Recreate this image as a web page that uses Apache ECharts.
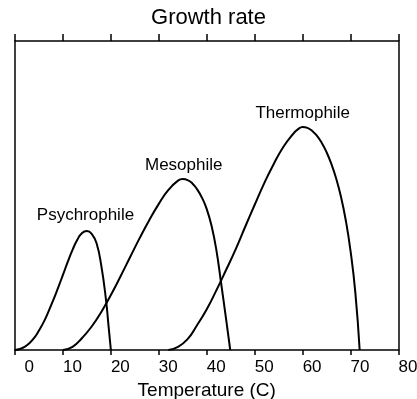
<!DOCTYPE html>
<html>
<head>
<meta charset="utf-8">
<script src="https://cdn.jsdelivr.net/npm/echarts@6/dist/echarts.min.js"></script>
<style>html,body{margin:0;padding:0;background:#fff}#c{width:417px;height:399px}</style>
</head>
<body>
<div id="c"></div>
<script>
// Temperature (C) vs relative growth rate (0-100 scale)
const xTicks = [0, 10, 20, 30, 40, 50, 60, 70, 80];
const psychroX = [0, 1, 2, 3, 4, 5, 6, 7, 8, 9, 10, 11, 12, 13, 14, 15, 16, 17, 18, 19, 19.5, 20];
const psychroY = [0, 0.3, 1.0, 2.2, 3.9, 6.3, 9.1, 12.5, 16.2, 20.2, 24.3, 28.5, 32.4, 35.7, 37.9, 38.5, 37.6, 34.6, 27.3, 16.0, 8.0, 0];
const mesoX = [10, 12, 14, 16, 18, 20, 22, 24, 26, 28, 30, 32, 34, 35, 36, 37, 38, 39, 40, 41, 42, 43, 44, 44.9];
const mesoY = [0, 1.0, 3.9, 7.6, 12.3, 17.8, 23.8, 30.0, 36.2, 42.0, 47.3, 51.8, 54.8, 55.3, 55.0, 53.9, 52.0, 49.3, 45.6, 40.2, 32.4, 21.6, 10.4, 0];
const thermoX = [32, 34, 36, 38, 40, 42, 44, 46, 48, 50, 52, 54, 56, 58, 59, 60, 61, 62, 63, 64, 65, 66, 67, 68, 69, 70, 71, 71.9];
const thermoY = [0, 1.0, 3.5, 8.1, 13.2, 19.3, 25.8, 32.5, 39.8, 47.0, 54.0, 60.3, 65.8, 69.9, 71.4, 72.2, 71.9, 70.9, 69.3, 67.0, 64.0, 60.2, 55.5, 49.6, 42.0, 32.0, 18.5, 0];
const labelNames = ['Psychrophile', 'Mesophile', 'Thermophile'];
const labelX = [14.7, 35.2, 60.0];
const labelY = [43.7, 59.9, 76.7];

const FONT = 'Liberation Sans, Arial, Helvetica, sans-serif';
const zip = (xs, ys) => xs.map((x, i) => [x, ys[i]]);
const lineStyle = { color: '#000', width: 2 };
const axisLineStyle = { color: '#000', width: 1.5 };

function mk(name, xs, ys, idx) {
  return {
    type: 'line', name: name, data: zip(xs, ys), symbol: 'none', smooth: 0.5,
    lineStyle: lineStyle, silent: true,
    markPoint: {
      symbol: 'circle', symbolSize: 1, itemStyle: { color: 'rgba(0,0,0,0)' },
      data: [{ coord: [labelX[idx], labelY[idx]], value: name }],
      label: { show: true, position: 'inside', formatter: name, color: '#000', fontSize: 17, fontFamily: FONT }
    }
  };
}

const chart = echarts.init(document.getElementById('c'), null, { renderer: 'canvas' });
chart.setOption({
  animation: false,
  backgroundColor: '#fff',
  title: {
    text: 'Growth rate', left: 'center', top: 7, padding: 0,
    textStyle: { color: '#000', fontSize: 22, fontWeight: 'normal', fontFamily: FONT }
  },
  grid: { left: 15, right: 18.5, top: 41, bottom: 49, containLabel: false, outerBoundsMode: 'none' },
  xAxis: [
    {
      type: 'value', position: 'bottom', min: 0, max: 80, interval: 10,
      axisLine: { show: true, onZero: false, lineStyle: axisLineStyle },
      axisTick: { show: true, inside: false, length: 5, lineStyle: axisLineStyle },
      axisLabel: { show: true, color: '#000', fontSize: 17, fontFamily: FONT, margin: 9,
        align: 'left', hideOverlap: false,
        formatter: (v) => (v < 10 ? '  ' + v : String(v)) },
      splitLine: { show: false },
      name: 'Temperature (C)', nameLocation: 'middle', nameGap: 23,
      nameTextStyle: { color: '#000', fontSize: 19, fontFamily: FONT }
    },
    {
      type: 'value', position: 'top', min: 0, max: 80, interval: 10,
      axisLine: { show: true, onZero: false, lineStyle: axisLineStyle },
      axisTick: { show: true, inside: false, length: 7, lineStyle: axisLineStyle },
      axisLabel: { show: false },
      splitLine: { show: false }
    }
  ],
  yAxis: [
    {
      type: 'value', position: 'left', min: 0, max: 100,
      axisLine: { show: true, onZero: false, lineStyle: axisLineStyle },
      axisTick: { show: false }, axisLabel: { show: false }, splitLine: { show: false }
    },
    {
      type: 'value', position: 'right', min: 0, max: 100,
      axisLine: { show: true, onZero: false, lineStyle: axisLineStyle },
      axisTick: { show: false }, axisLabel: { show: false }, splitLine: { show: false }
    }
  ],
  series: [
    mk(labelNames[0], psychroX, psychroY, 0),
    mk(labelNames[1], mesoX, mesoY, 1),
    mk(labelNames[2], thermoX, thermoY, 2)
  ]
});
</script>
</body>
</html>
